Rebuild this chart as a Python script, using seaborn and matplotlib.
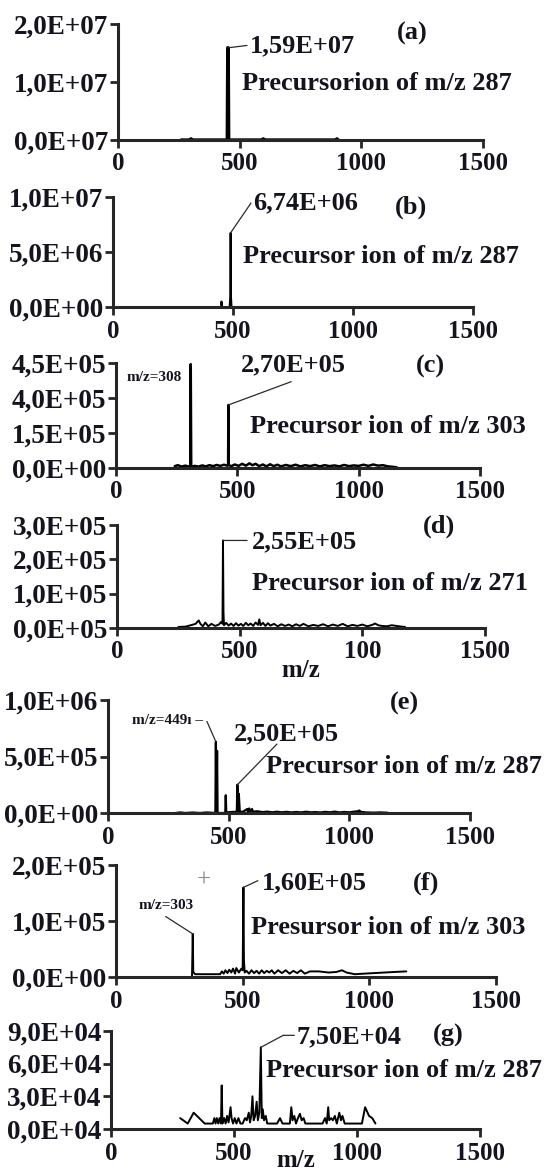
import matplotlib
matplotlib.use("Agg")
import matplotlib.pyplot as plt
import seaborn as sns

sns.set_style("ticks")
plt.rcParams["font.family"] = ["Liberation Serif", "DejaVu Serif"]
plt.rcParams["font.weight"] = "bold"

INK = "#14141f"

# ---- data (m/z, intensity) ----
a_mz = [260, 295, 300, 305, 449, 451, 453, 455, 592, 597, 602, 895, 900, 905]
a_int = [0, 0, 2e5, 0, 0, 1.59e7, 1.59e7, 0, 0, 2e5, 0, 0, 2e5, 0]

b_mz = [440, 450, 452, 455, 486, 489, 490, 491, 494, 520]
b_int = [0, 0, 5e5, 0, 0, 1.2e6, 6.74e6, 1.2e6, 0, 0]

c_mz = [242, 255, 270, 285, 298, 306, 308, 310, 325, 340, 355, 370, 385, 400, 415, 430, 445, 458, 462, 463,
        464, 475, 490, 505, 520, 535, 550, 562, 575, 590, 605, 620, 635, 650, 665, 680, 700, 720, 740, 760,
        780, 800, 820, 840, 860, 880, 900, 920, 940, 960, 980, 1000, 1020, 1040, 1060, 1080, 1100, 1120, 1140, 1157]
c_int = [8e3, 1.2e4, 6e3, 1e4, 7e3, 5e3, 4.45e5, 5e3, 9e3, 6e3, 1.1e4, 7e3, 1.2e4, 8e3, 1.3e4, 9e3, 1.4e4, 1.0e4, 1.6e4, 2.7e5,
         1.2e4, 8e3, 1.5e4, 9e3, 1.8e4, 1.0e4, 2.0e4, 1.2e4, 1.8e4, 8e3, 1.5e4, 7e3, 1.6e4, 8e3, 1.4e4, 7e3, 1.3e4, 8e3, 1.4e4, 7e3,
         1.2e4, 8e3, 1.3e4, 7e3, 1.2e4, 8e3, 1.1e4, 7e3, 1.3e4, 8e3, 1.1e4, 9e3, 1.4e4, 9e3, 1.5e4, 1.0e4, 1.2e4, 7e3, 5e3, 3e3]

d_mz = [250, 280, 300, 320, 333, 340, 350, 360, 372, 385, 400, 415, 425, 430, 432, 434, 436, 445, 455, 465,
        475, 485, 495, 505, 515, 525, 535, 545, 555, 565, 575, 580, 585, 595, 605, 615, 625, 640, 655, 670,
        685, 700, 715, 730, 745, 760, 780, 800, 820, 840, 860, 880, 900, 920, 940, 960, 980, 1000, 1020, 1040,
        1052, 1065, 1080, 1100, 1120, 1140, 1160, 1174]
d_int = [3e3, 4e3, 8e3, 1.2e4, 2.2e4, 1.2e4, 5e3, 1.6e4, 5e3, 1.2e4, 6e3, 1.0e4, 1.8e4, 1.2e4, 2.55e5, 4.8e4, 8e3, 1.5e4, 7e3, 1.3e4,
         6e3, 1.4e4, 7e3, 1.2e4, 6e3, 1.5e4, 8e3, 1.3e4, 6e3, 1.6e4, 9e3, 2.5e4, 8e3, 1.5e4, 6e3, 1.4e4, 7e3, 1.2e4, 5e3, 1.1e4,
         6e3, 1.0e4, 5e3, 1.1e4, 6e3, 1.2e4, 5e3, 9e3, 6e3, 1.1e4, 5e3, 1.0e4, 6e3, 1.2e4, 5e3, 9e3, 6e3, 1.0e4, 5e3, 9e3,
         1.3e4, 8e3, 6e3, 5e3, 8e3, 6e3, 4e3, 3e3]

e_mz = [280, 300, 320, 350, 380, 410, 430, 443, 445, 447, 449, 452, 454, 457, 480, 486, 488, 490, 520, 532,
        534, 536, 540, 542, 546, 560, 577, 580, 585, 590, 597, 600, 620, 640, 660, 680, 700, 720, 740, 760,
        780, 800, 820, 840, 860, 880, 900, 920, 940, 960, 980, 1000, 1020, 1035, 1041, 1048, 1070, 1100, 1130, 1160]
e_int = [0, 5e3, 0, 4e3, 0, 5e3, 2e3, 0, 2e4, 6.3e5, 2e4, 5.5e5, 1e4, 0, 0, 5e3, 1.57e5, 5e3, 1e4, 8e3,
         3e4, 2.5e5, 1e4, 1.7e5, 1e4, 1.2e4, 3.5e4, 1.2e4, 4e4, 1.5e4, 3.5e4, 1.2e4, 1.5e4, 8e3, 1.2e4, 6e3, 1.1e4, 6e3, 1e4, 5e3,
         9e3, 5e3, 1.1e4, 6e3, 8e3, 5e3, 1e4, 6e3, 1.2e4, 5e3, 9e3, 6e3, 1.2e4, 1.5e4, 2.2e4, 1e4, 5e3, 3e3, 5e3, 2e3]

f_mz = [300, 303, 305, 312, 340, 380, 411, 418, 425, 432, 440, 447, 455, 462, 470, 475, 485, 495, 500, 503,
        505, 508, 515, 525, 535, 545, 555, 565, 575, 585, 595, 605, 615, 625, 640, 655, 670, 685, 700, 715,
        730, 745, 766, 800, 840, 870, 892, 910, 943, 980, 1020, 1060, 1100, 1146]
f_int = [0, 7.7e4, 9e3, 5e3, 5e3, 5e3, 5e3, 1e4, 6e3, 1.2e4, 7e3, 1.3e4, 8e3, 1.5e4, 6e3, 1.6e4, 8e3, 1.5e4, 1.2e4, 1.6e5,
         3e4, 8e3, 1.1e4, 6e3, 1.2e4, 7e3, 1.1e4, 6e3, 1.2e4, 7e3, 1.1e4, 8e3, 1.2e4, 6e3, 1.2e4, 7e3, 1.2e4, 6e3, 1.1e4, 7e3,
         1.2e4, 6e3, 1e4, 1e4, 8e3, 9e3, 1.2e4, 8e3, 5e3, 6e3, 7e3, 8e3, 9e3, 1e4]

g_mz = [281, 312, 336, 381, 414, 420, 425, 430, 436, 441, 447, 450, 453, 460, 466, 472, 478, 486, 490, 496,
        503, 510, 518, 526, 535, 545, 552, 560, 565, 570, 575, 580, 586, 592, 597, 603, 609, 613, 617, 622,
        629, 635, 645, 660, 675, 687, 697, 710, 727, 733, 738, 745, 752, 760, 768, 775, 783, 790, 800, 860,
        870, 877, 883, 887, 895, 902, 910, 918, 928, 935, 941, 950, 1020, 1033, 1049, 1062, 1075]
g_int = [1e4, 5e3, 1.5e4, 5e3, 5e3, 1e4, 5e3, 1e4, 5e3, 1e4, 5e3, 4e4, 5e3, 1e4, 5e3, 1.2e4, 6e3, 2e4, 1e4, 5e3,
         1e4, 5e3, 1e4, 5e3, 5e3, 1e4, 8e3, 1.5e4, 6e3, 1.2e4, 3e4, 8e3, 1.2e4, 2.5e4, 8e3, 1.5e4, 7.5e4, 1e4, 1.8e4, 8e3,
         1.2e4, 5e3, 5e3, 5e3, 5e3, 1e4, 5e3, 5e3, 5e3, 2e4, 8e3, 1.2e4, 5e3, 1e4, 1.4e4, 8e3, 1e4, 5e3, 5e3, 5e3,
         1e4, 5e3, 2e4, 8e3, 1e4, 8e3, 1.2e4, 5e3, 1.5e4, 8e3, 1.2e4, 5e3, 5e3, 2e4, 1.2e4, 1e4, 5e3]

# axis ticks and the labels as printed in the figure
x_ticks = [0, 500, 1000, 1500]
x_labels = ["0", "500", "1000", "1500"]
d_x_labels = ["0", "500", "100", "1500"]

a_yticks, a_ylabels = [0, 1e7, 2e7], ["0,0E+07", "1,0E+07", "2,0E+07"]
b_yticks, b_ylabels = [0, 5e6, 1e7], ["0,0E+00", "5,0E+06", "1,0E+07"]
c_yticks, c_ylabels = [0, 1.5e5, 3e5, 4.5e5], ["0,0E+00", "1,5E+05", "4,0E+05", "4,5E+05"]
d_yticks, d_ylabels = [0, 1e5, 2e5, 3e5], ["0,0E+05", "1,0E+05", "2,0E+05", "3,0E+05"]
e_yticks, e_ylabels = [0, 5e5, 1e6], ["0,0E+00", "5,0E+05", "1,0E+06"]
f_yticks, f_ylabels = [0, 1e5, 2e5], ["0,0E+00", "1,0E+05", "2,0E+05"]
g_yticks, g_ylabels = [0, 3e4, 6e4, 9e4], ["0,0E+04", "3,0E+04", "6,0E+04", "9,0E+04"]

W, H = 548, 1170
fig = plt.figure(figsize=(W / 100, H / 100), dpi=100)


def add_ax(x0, x1, ytop, ybot):
    return fig.add_axes([x0 / W, 1 - ybot / H, (x1 - x0) / W, (ybot - ytop) / H])


def panel(ax, mz, inten, yticks, ylabels, xlabels=x_labels, lw=1.4):
    sns.lineplot(x=mz, y=inten, ax=ax, color="black", linewidth=lw, estimator=None, sort=False)
    ax.set_xlim(0, 1500)
    ax.set_ylim(0, yticks[-1])
    ax.set_xticks(x_ticks)
    ax.set_xticklabels(xlabels)
    ax.set_yticks(yticks)
    ax.set_yticklabels(ylabels)
    ax.set_xlabel("")
    ax.set_ylabel("")
    sns.despine(ax=ax)
    for s in ("left", "bottom"):
        ax.spines[s].set_linewidth(2.2)
    ax.tick_params(length=6, width=2, labelcolor=INK)
    ax.tick_params(axis="y", pad=1, labelsize=19.5)
    ax.tick_params(axis="x", pad=3, labelsize=18)


def note(ax, s, x, y, size=19, **kw):
    ax.text(x, y, s, fontsize=size, fontweight="bold", color=INK, ha="left", va="center", **kw)


def leader(ax, p, q):
    ax.annotate("", xy=p, xytext=q,
                arrowprops=dict(arrowstyle="-", color="#2a2a2a", lw=0.9, shrinkA=0, shrinkB=0))


# (a)
ax = add_ax(118, 483, 24, 140)
panel(ax, a_mz, a_int, a_yticks, a_ylabels, lw=2.4)
leader(ax, (453, 1.59e7), (530, 1.63e7))
note(ax, "1,59E+07", 542, 1.62e7)
note(ax, "(a)", 1147, 1.83e7)
note(ax, "Precursorion of m/z 287", 509, 0.97e7)

# (b)
ax = add_ax(113, 473, 197, 307)
panel(ax, b_mz, b_int, b_yticks, b_ylabels)
leader(ax, (490, 6.74e6), (575, 9.45e6))
note(ax, "6,74E+06", 584, 9.45e6)
note(ax, "(b)", 1175, 9.1e6)
note(ax, "Precursor ion of m/z 287", 543, 4.55e6)

# (c)
ax = add_ax(116, 480, 363, 468)
panel(ax, c_mz, c_int, c_yticks, c_ylabels, lw=1.8)
note(ax, "m/z=308", 44, 3.86e5, size=11)
leader(ax, (463, 2.7e5), (722, 3.7e5))
note(ax, "2,70E+05", 516, 4.41e5)
note(ax, "(c)", 1236, 4.34e5)
note(ax, "Precursor ion of m/z 303", 551, 1.77e5)

# (d)
ax = add_ax(117, 485, 525, 628)
panel(ax, d_mz, d_int, d_yticks, d_ylabels, xlabels=d_x_labels)
leader(ax, (432, 2.55e5), (530, 2.55e5))
note(ax, "2,55E+05", 549, 2.52e5)
note(ax, "(d)", 1247, 2.95e5)
note(ax, "Precursor ion of m/z 271", 549, 1.31e5)
ax.set_xlabel("m/z", fontsize=18, fontweight="bold", color=INK, labelpad=-3)

# (e)
ax = add_ax(108, 470, 700, 813)
panel(ax, e_mz, e_int, e_yticks, e_ylabels, lw=1.6)
note(ax, "m/z=449ı –", 100, 8.2e5, size=11)
leader(ax, (447, 6.3e5), (410, 8.1e5))
leader(ax, (536, 2.5e5), (700, 6.1e5))
note(ax, "2,50E+05", 523, 7.0e5)
note(ax, "(e)", 1170, 0.97e6)
note(ax, "Precursor ion of m/z 287", 655, 4.14e5)

# (f)
ax = add_ax(116, 496, 865, 977)
panel(ax, f_mz, f_int, f_yticks, f_ylabels)
ax.text(345, 1.72e5, "+", fontsize=18, fontweight="light", color="#888888", ha="center", va="center")
note(ax, "m/z=303", 89, 1.28e5, size=11)
leader(ax, (303, 7.7e4), (196, 1.08e5))
leader(ax, (503, 1.6e5), (560, 1.72e5))
note(ax, "1,60E+05", 576, 1.69e5)
note(ax, "(f)", 1172, 1.68e5)
note(ax, "Presursor ion of m/z 303", 532, 0.88e5)

# (g)
ax = add_ax(111, 480, 1031, 1129)
panel(ax, g_mz, g_int, g_yticks, g_ylabels)
leader(ax, (609, 7.5e4), (700, 8.6e4))
leader(ax, (700, 8.6e4), (745, 8.6e4))
note(ax, "7,50E+04", 753, 8.5e4)
note(ax, "(g)", 1309, 8.6e4)
note(ax, "Precursor ion of m/z 287", 630, 5.4e4)
ax.set_xlabel("m/z", fontsize=18, fontweight="bold", color=INK, labelpad=-11)

fig.savefig("out.png", dpi=100, facecolor="white")
